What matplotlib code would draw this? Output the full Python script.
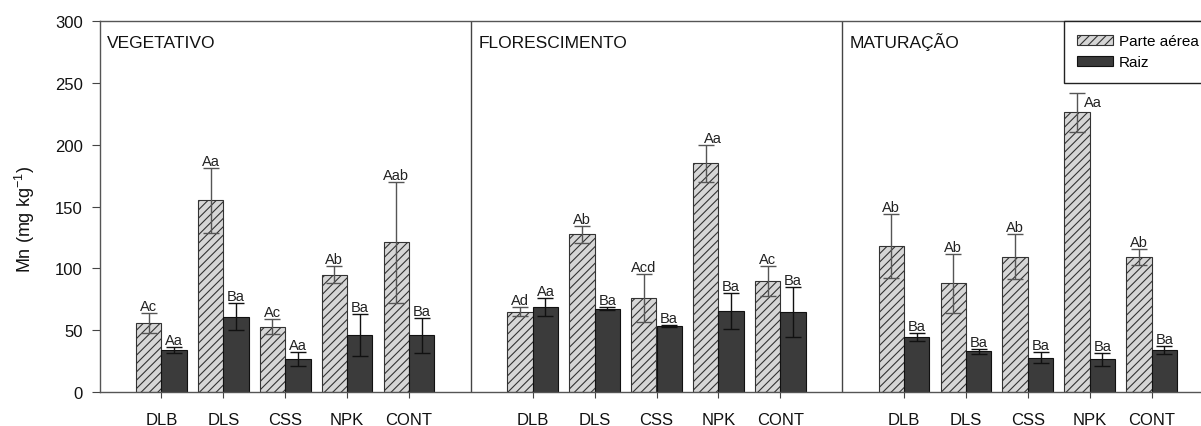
import numpy as np
import matplotlib
matplotlib.use("Agg")
import matplotlib.pyplot as plt
from matplotlib.patches import Patch

plt.rcParams['font.family'] = ['Liberation Sans', 'DejaVu Sans']
plt.rcParams['mathtext.fontset'] = 'custom'
plt.rcParams['mathtext.rm'] = 'Liberation Sans'
plt.rcParams['mathtext.it'] = 'Liberation Sans'
plt.rcParams['hatch.linewidth'] = 0.8

stages = ["VEGETATIVO", "FLORESCIMENTO", "MATURAÇÃO"]
treatments = ["DLB", "DLS", "CSS", "NPK", "CONT"]

# parte aérea (shoot), one row per stage
shoot = np.array([[56, 155, 53, 95, 121],
                  [65, 127.5, 76, 185, 90],
                  [118, 88, 109.5, 226, 109.5]])
shoot_err = np.array([[8, 26, 6, 7, 49],
                      [3.5, 7, 19.5, 15, 12],
                      [26, 24, 18, 16, 6.5]])
# raiz (root)
root = np.array([[34, 61, 27, 46, 46],
                 [69, 67.5, 53.5, 65.5, 65],
                 [44.5, 33, 28, 26.5, 34]])
root_err = np.array([[2.5, 11, 5.5, 17, 14],
                     [7.5, 1, 0.5, 14.5, 20],
                     [3, 2, 4.3, 5.3, 3.4]])

shoot_lab = [["Ac", "Aa", "Ac", "Ab", "Aab"],
             ["Ad", "Ab", "Acd", "Aa", "Ac"],
             ["Ab", "Ab", "Ab", "Aa", "Ab"]]
root_lab = [["Aa", "Ba", "Aa", "Ba", "Ba"],
            ["Aa", "Ba", "Ba", "Ba", "Ba"],
            ["Ba", "Ba", "Ba", "Ba", "Ba"]]

w = 0.41
light = "#d6d6d6"
dark = "#3b3b3b"

fig = plt.figure(figsize=(12.01, 4.27), dpi=100)
ax = fig.add_axes([99.5 / 1201, 1 - 393.3 / 427, 1114 / 1201, 371.6 / 427])

ticks = []
for s in range(3):
    x = np.arange(1, 6) + 6 * s
    ticks.extend(x)
    ax.bar(x - w / 2, shoot[s], w, color=light, edgecolor="#333333",
           hatch="////", linewidth=0.8, zorder=2)
    ax.bar(x + w / 2, root[s], w, color=dark, edgecolor="#111111",
           linewidth=0.8, zorder=2)
    ax.errorbar(x - w / 2, shoot[s], yerr=shoot_err[s], fmt="none",
                ecolor="#555555", elinewidth=1, capsize=5.5, capthick=1, zorder=3)
    ax.errorbar(x + w / 2, root[s], yerr=root_err[s], fmt="none",
                ecolor="#111111", elinewidth=1, capsize=5.5, capthick=1, zorder=3)
    for i in range(5):
        top = shoot[s, i] + shoot_err[s, i]
        if s == 2 and i == 3:
            ax.text(x[i] - w / 2 + 0.12, top - 2, shoot_lab[s][i], ha="left",
                    va="top", fontsize=10.5, color="#222222")
        else:
            dx = 0.12 if (s == 1 and i == 3) else 0
            ax.text(x[i] - w / 2 + dx, top, shoot_lab[s][i], ha="center",
                    va="bottom", fontsize=10.5, color="#222222")
        rtop = root[s, i] + root_err[s, i]
        ax.text(x[i] + w / 2, rtop, root_lab[s][i], ha="center",
                va="bottom", fontsize=10.5, color="#222222")
    ax.text(6 * s + 0.12, 279, stages[s], ha="left", va="baseline",
            fontsize=12.5, color="#111111")

for sep in [6, 12]:
    ax.axvline(sep, color="#444444", linewidth=1, zorder=1)

ax.set_xlim(0, 18)
ax.set_ylim(0, 300)
ax.set_yticks(np.arange(0, 301, 50))
ax.set_xticks(ticks)
ax.set_xticklabels(treatments * 3)
ax.tick_params(axis="x", direction="out", length=4, pad=10, labelsize=12,
               colors="#444444", labelcolor="#111111")
ax.tick_params(axis="y", direction="out", length=6, pad=6, labelsize=12,
               colors="#444444", labelcolor="#111111")
for sp in ax.spines.values():
    sp.set_color("#555555")
    sp.set_linewidth(1)

fig.text(25 / 1201, 1 - 220 / 427, r"Mn (mg kg$^{-1}$)", rotation=90,
         ha="center", va="center", fontsize=13, color="#111111")

handles = [Patch(facecolor=light, edgecolor="#333333", hatch="////", linewidth=0.8),
           Patch(facecolor=dark, edgecolor="#111111", linewidth=0.8)]
leg = ax.legend(handles, ["Parte aérea", "Raiz"], loc="upper left",
                bbox_to_anchor=(15.58, 300), bbox_transform=ax.transData,
                fancybox=False, edgecolor="#222222", framealpha=1,
                fontsize=11, handlelength=2.3, handleheight=0.65,
                handletextpad=0.4, labelspacing=0.45, borderpad=0.9,
                borderaxespad=0)
leg.get_frame().set_linewidth(1)

fig.savefig("out.png", dpi=100)
